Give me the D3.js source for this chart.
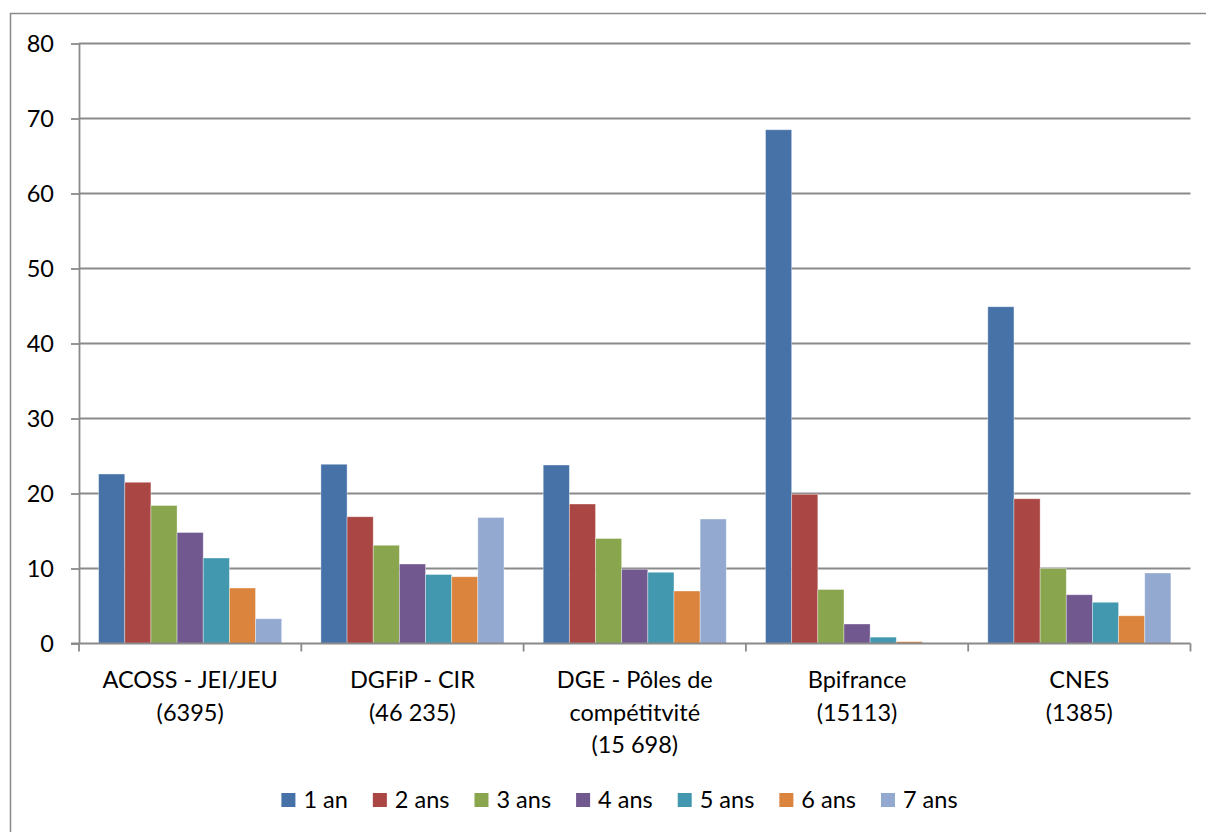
<!DOCTYPE html>
<html>
<head>
<meta charset="utf-8">
<script src="https://cdn.jsdelivr.net/npm/d3@7"></script>
<style>
  html, body { margin: 0; padding: 0; background: #fff; }
  svg { display: block; }
  text { font-family: Lato, "Open Sans", sans-serif; fill: #000; }
</style>
</head>
<body>
<svg id="chart" width="1206" height="832"></svg>
<script>
const categories = [
  ["ACOSS - JEI/JEU", "(6395)"],
  ["DGFiP - CIR", "(46 235)"],
  ["DGE - Pôles de", "compétitvité", "(15 698)"],
  ["Bpifrance", "(15113)"],
  ["CNES", "(1385)"]
];
const seriesNames = ["1 an", "2 ans", "3 ans", "4 ans", "5 ans", "6 ans", "7 ans"];
const seriesColors = ["#4672A8", "#AA4744", "#89A54E", "#71588F", "#4298AF", "#DB843D", "#93A9D0"];
const values1an  = [22.6, 23.9, 23.8, 68.5, 44.9];
const values2ans = [21.5, 16.9, 18.6, 19.9, 19.3];
const values3ans = [18.4, 13.1, 14.0, 7.2, 10.0];
const values4ans = [14.8, 10.6, 9.9, 2.6, 6.5];
const values5ans = [11.4, 9.2, 9.5, 0.85, 5.5];
const values6ans = [7.4, 8.9, 7.0, 0.25, 3.7];
const values7ans = [3.3, 16.8, 16.6, 0.05, 9.4];
const yTicks = [0, 10, 20, 30, 40, 50, 60, 70, 80];

const seriesValues = [values1an, values2ans, values3ans, values4ans, values5ans, values6ans, values7ans];
const catKeys = categories.map(c => c.join(" "));

const svg = d3.select("#chart");
const gridColor = "#8a8a8a";
const fontSize = "23.5px";

// outer chart border
svg.append("rect")
  .attr("x", 10.5).attr("y", 13.5)
  .attr("width", 1206).attr("height", 840)
  .attr("fill", "none").attr("stroke", gridColor).attr("stroke-width", 1.5);

const plotLeft = 79, plotRight = 1190.5, plotTop = 43.5, plotBottom = 643.5;

const x = d3.scaleBand().domain(catKeys).range([plotLeft, plotRight]).padding(0);
const xInner = d3.scaleBand().domain(seriesNames).range([0, x.bandwidth()])
  .paddingInner(0).paddingOuter(0.75);
const y = d3.scaleLinear().domain([0, 80]).range([plotBottom, plotTop]);

// gridlines
svg.append("g").selectAll("line").data(yTicks.filter(t => t > 0)).join("line")
  .attr("x1", plotLeft).attr("x2", plotRight)
  .attr("y1", d => y(d)).attr("y2", d => y(d))
  .attr("stroke", gridColor).attr("stroke-width", 1.8);

// bars
const groups = svg.append("g").selectAll("g").data(seriesNames).join("g")
  .attr("fill", (d, i) => seriesColors[i]);
groups.each(function(name, si) {
  d3.select(this).selectAll("rect").data(seriesValues[si]).join("rect")
    .attr("x", (v, ci) => x(catKeys[ci]) + xInner(name))
    .attr("width", xInner.bandwidth())
    .attr("y", v => y(v))
    .attr("height", v => y(0) - y(v))
    .attr("stroke", "rgba(255,255,255,0.45)")
    .attr("stroke-width", 0.8);
});

// y axis
const yAxis = svg.append("g").attr("transform", `translate(${plotLeft},0)`)
  .call(d3.axisLeft(y).tickValues(yTicks).tickSize(8).tickPadding(17).tickSizeOuter(0));
yAxis.select(".domain").attr("stroke", gridColor).attr("stroke-width", 1.8);
yAxis.selectAll(".tick line").attr("stroke", gridColor).attr("stroke-width", 1.8);
yAxis.selectAll(".tick text").attr("font-size", fontSize).attr("font-family", "Lato").attr("fill", "#000")
  .attr("dy", "0.36em");

// x axis
const boundaries = catKeys.map(k => x(k)).concat([plotRight]);
const xAxis = svg.append("g").attr("transform", `translate(0,${plotBottom})`);
xAxis.append("line").attr("x1", plotLeft - 8).attr("x2", plotRight)
  .attr("stroke", gridColor).attr("stroke-width", 1.8);
xAxis.selectAll("line.tk").data(boundaries).join("line").attr("class", "tk")
  .attr("x1", d => d).attr("x2", d => d).attr("y1", 0).attr("y2", 8)
  .attr("stroke", gridColor).attr("stroke-width", 1.8);

// category labels
const labels = svg.append("g").selectAll("text").data(categories).join("text")
  .attr("text-anchor", "middle")
  .attr("font-size", fontSize);
labels.each(function(lines, ci) {
  const cx = x(catKeys[ci]) + x.bandwidth() / 2;
  d3.select(this).selectAll("tspan").data(lines).join("tspan")
    .attr("x", cx)
    .attr("y", (d, i) => 688 + i * 32.5)
    .text(d => d);
});

// legend
const legend = svg.append("g");
const items = legend.selectAll("g").data(seriesNames).join("g");
items.append("rect").attr("width", 14).attr("height", 14).attr("y", 793)
  .attr("fill", (d, i) => seriesColors[i]);
items.append("text").attr("x", 22).attr("y", 808).attr("font-size", fontSize).text(d => d);
const widths = [];
items.select("text").each(function() { widths.push(this.getComputedTextLength()); });
const gap = 25;
const total = widths.reduce((a, w) => a + 22 + w, 0) + gap * (widths.length - 1);
let cur = 619.5 - total / 2;
items.each(function(d, i) {
  d3.select(this).attr("transform", `translate(${cur},0)`);
  cur += 22 + widths[i] + gap;
});
</script>
</body>
</html>
